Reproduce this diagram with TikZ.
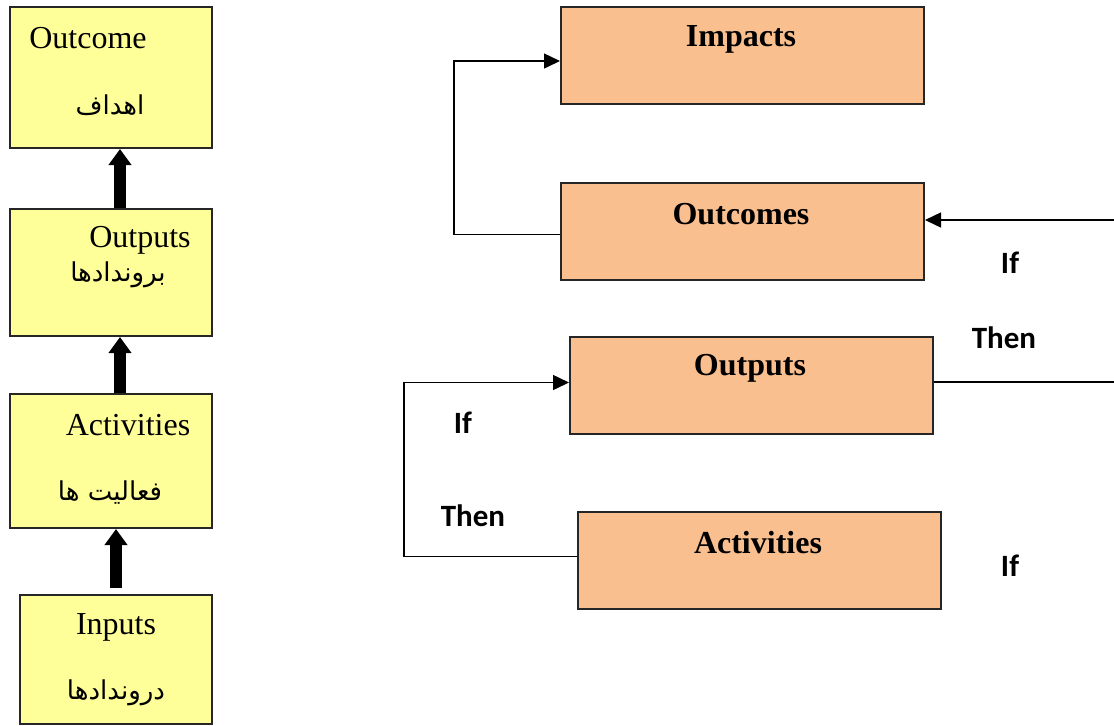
\documentclass[tikz,border=0pt]{standalone}
\usepackage{fontspec}
\setmainfont{Liberation Serif}
\newfontfamily\farsi[Script=Arabic]{DejaVu Sans}
\newfontfamily\calib{Carlito}
\TeXXeTstate=1
\usetikzlibrary{arrows.meta, positioning}
\definecolor{boxyellow}{HTML}{FFFF99}
\definecolor{boxorange}{HTML}{FABF8F}

\tikzset{
	ybox/.style={draw=black!85, fill=boxyellow, line width=1pt, inner sep=0pt, anchor=north west, minimum width=101pt},
	obox/.style={draw=black!85, fill=boxorange, line width=1pt, inner sep=0pt, anchor=north west, minimum width=181.5pt, minimum height=48.5pt},
	entxt/.style={inner sep=0pt, font=\fontsize{16}{19}\selectfont},
	fatxt/.style={inner sep=0pt, font=\farsi\fontsize{13}{16}\selectfont},
	bftxt/.style={inner sep=0pt, font=\fontsize{16}{19}\selectfont\bfseries},
	cond/.style={inner sep=0pt, font=\calib\fontsize{15.5}{18}\selectfont\bfseries},
	bigarrow/.style={line width=6pt, -{Triangle[width=11pt,length=8pt]}},
	link/.style={line width=0.75pt, -{Triangle[width=7.5pt,length=8pt]}}
}

\begin{document}
\begin{tikzpicture}[x=0.5pt, y=-0.5pt]
	\useasboundingbox (0,0) rectangle (1114,725);

	% left column
	\node [ybox, minimum height=70.5pt] (outcome) at (9,6) {};
	\node [ybox, minimum height=63.5pt] (outputsL) at (9,208) {};
	\node [ybox, minimum height=67pt] (activitiesL) at (9,393) {};
	\node [ybox, minimum height=64.5pt, minimum width=96pt] (inputs) at (19,594) {};

	\node [entxt] (outcome-en) at (88,38) {Outcome};
	\node [fatxt] (outcome-fa) at (110,105) {\beginR اهداف\endR};
	\node [entxt] (outputsL-en) at (140,240) {Outputs};
	\node [fatxt] (outputsL-fa) at (118,275) {\beginR بروندادها\endR};
	\node [entxt] (activitiesL-en) at (128,425) {Activities};
	\node [fatxt] (activitiesL-fa) at (110,493) {\beginR فعالیت ها\endR};
	\node [entxt] (inputs-en) at (116,627) {Inputs};
	\node [fatxt] (inputs-fa) at (116,693) {\beginR دروندادها\endR};

	\coordinate (inputs-top) at (116,588);
	\draw [bigarrow] ([xshift=4.5pt]outputsL.north) -- ([xshift=4.5pt]outcome.south);
	\draw [bigarrow] ([xshift=4.5pt]activitiesL.north) -- ([xshift=4.5pt]outputsL.south);
	\draw [bigarrow] (inputs-top) -- (inputs-top |- activitiesL.south);

	% right column
	\node [obox] (impacts) at (560,6) {};
	\node [obox] (outcomes) at (560,182) {};
	\node [obox] (outputs) at (569,336) {};
	\node [obox] (activities) at (577,511) {};

	\node [bftxt] (impacts-t) at (741,39) {Impacts};
	\node [bftxt] (outcomes-t) at (741,214) {Outcomes};
	\node [bftxt] (outputs-t) at (750,368) {Outputs};
	\node [bftxt] (activities-t) at (758,543) {Activities};

	\coordinate (rin) at (1114,220);
	\coordinate (rout) at (1114,382);

	\draw [link] ([yshift=-1.5pt]outcomes.west) -- ++(-106,0) |- ([yshift=-2.75pt]impacts.west);
	\draw [link] (rin) -- (rin -| outcomes.east);
	\draw [link] ([yshift=2pt]activities.west) -- ++(-173,0) |- ([yshift=1.5pt]outputs.west);
	\draw [line width=0.75pt] (rout -| outputs.east) -- (rout);

	\node [cond] (if1) at (1010,263) {If};
	\node [cond] (then1) at (1004,338) {Then};
	\node [cond] (if2) at (463,423) {If};
	\node [cond] (then2) at (473,516) {Then};
	\node [cond] (if3) at (1010,566) {If};
\end{tikzpicture}
\end{document}
